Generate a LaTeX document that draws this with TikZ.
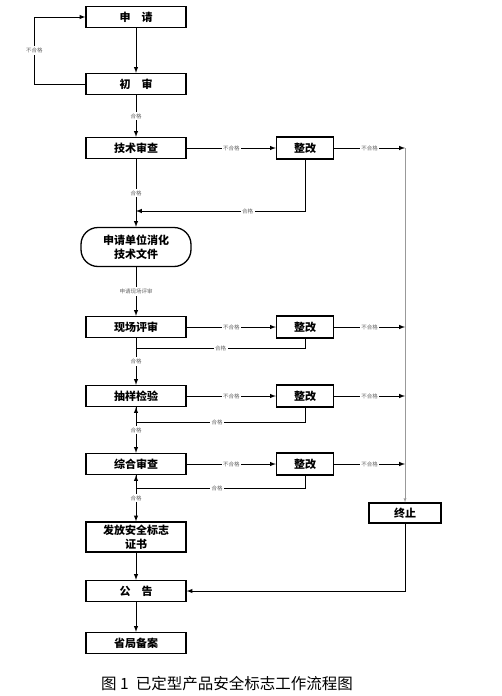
\documentclass[tikz,border=0pt]{standalone}
\usepackage{fontspec}
\setmainfont{Noto Sans CJK SC}
\usetikzlibrary{arrows}
\tikzstyle{qbox}=[rectangle, draw, line width=1.3pt, minimum width=100pt, minimum height=21pt, inner sep=0pt, font=\fontsize{11}{14}\selectfont\bfseries]
\tikzstyle{zgbox}=[qbox, minimum width=57pt, minimum height=22pt]
\tikzstyle{pass}=[-latex, line width=1pt]
\tikzstyle{lbl}=[fill=white, inner sep=1.5pt, font=\fontsize{5.5}{6}\selectfont, text=black!60]

\begin{document}
\begin{tikzpicture}[x=1pt,y=-1pt]
  \useasboundingbox (0,0) rectangle (501,696);
  % main column
  \node[qbox] (sq) at (136,17) {申\quad 请};
  \node[qbox] (cs) at (136,84) {初\quad 审};
  \node[qbox] (js) at (136,148) {技术审查};
  \node[qbox, rounded corners=17pt, minimum width=110pt, minimum height=39pt, align=center] (xh) at (136,247) {申请单位消化\\技术文件};
  \node[qbox] (xc) at (136,327) {现场评审};
  \node[qbox] (cy) at (136,396) {抽样检验};
  \node[qbox] (zh) at (136,464) {综合审查};
  \node[qbox, minimum height=30pt, align=center] (ff) at (136,537) {发放安全标志\\证书};
  \node[qbox] (gg) at (136,591) {公\quad 告};
  \node[qbox] (sj) at (136,643) {省局备案};
  % rectification boxes
  \node[zgbox] (zg1) at (305,148) {整改};
  \node[zgbox] (zg2) at (305,327) {整改};
  \node[zgbox] (zg3) at (305,396) {整改};
  \node[zgbox] (zg4) at (305,464) {整改};
  \node[qbox, minimum width=72pt, minimum height=20pt] (zz) at (405,513) {终止};
  \coordinate (e1) at (405,148);
  \coordinate (e2) at (405,327);
  \coordinate (e3) at (405,396);
  \coordinate (e4) at (405,464);
  \coordinate (r1) at (136,211);
  \coordinate (r2) at (136,348);
  \coordinate (r3) at (136,422);
  \coordinate (r4) at (136,488);

  \draw[pass] (sq) -- (cs);
  \draw[pass] (cs.west) -- ++(-51,0) |- node[lbl, pos=0.25]{不合格} (sq.west);
  \draw[pass] (cs) -- node[lbl]{合格} (js);
  \draw[pass] (js) -- node[lbl]{不合格} (zg1);
  \draw[pass] (zg1) -- node[lbl]{不合格} (e1);
  \draw[pass] (zg1) |- node[lbl, pos=0.67]{合格} (r1);
  \draw[pass] (js) -- node[lbl]{合格} (xh);
  \draw[pass] (xh) -- node[lbl]{申请现场评审} (xc);
  \draw[pass] (xc) -- node[lbl]{不合格} (zg2);
  \draw[pass] (zg2) -- node[lbl]{不合格} (e2);
  \draw[line width=1pt] (zg2) |- node[lbl, pos=0.75]{合格} (r2);
  \draw[pass] (xc) -- node[lbl]{合格} (cy);
  \draw[pass] (cy) -- node[lbl]{不合格} (zg3);
  \draw[pass] (zg3) -- node[lbl]{不合格} (e3);
  \draw[pass] (zg3) |- node[lbl, pos=0.76]{合格} (r3) -- (cy);
  \draw[pass] (cy) -- node[lbl]{合格} (zh);
  \draw[pass] (zh) -- node[lbl]{不合格} (zg4);
  \draw[pass] (zg4) -- node[lbl]{不合格} (e4);
  \draw[pass] (zg4) |- node[lbl, pos=0.76]{合格} (r4) -- (zh);
  \draw[pass] (zh) -- node[lbl]{合格} (ff);
  \draw[pass] (ff) -- (gg);
  \draw[pass] (gg) -- (sj);
  \draw[-latex, thin, black!40] (e1) -- (zz);
  \draw[pass] (zz) |- (gg);

  \node[font=\fontsize{15.5}{18}\selectfont] (cap) at (227,684) {图 1\ \ 已定型产品安全标志工作流程图};
\end{tikzpicture}
\end{document}
